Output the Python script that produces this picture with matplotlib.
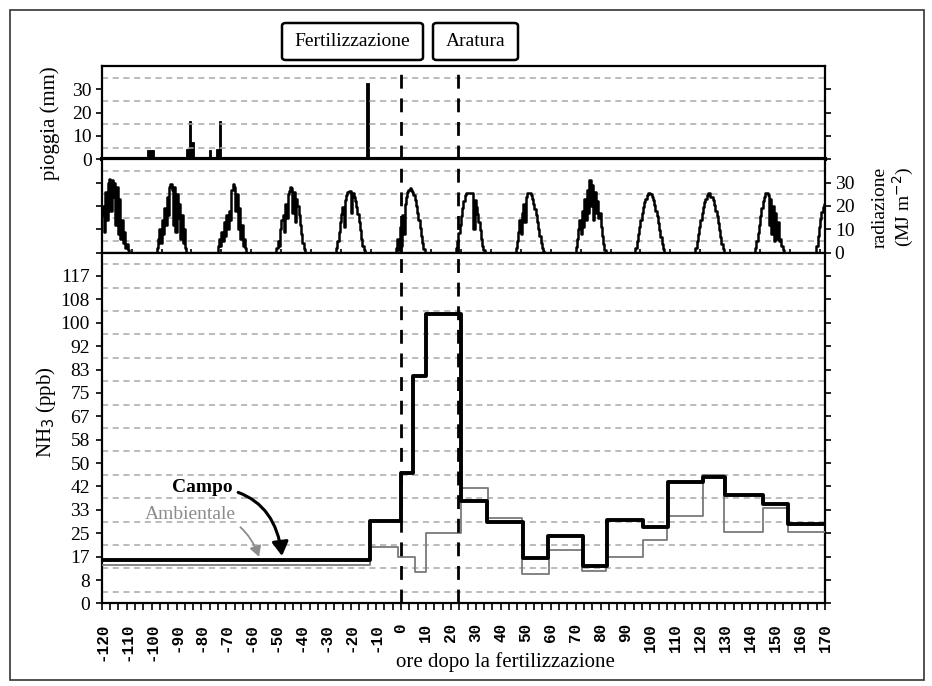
import numpy as np
import matplotlib
matplotlib.use("Agg")
import matplotlib.pyplot as plt
from matplotlib.patches import FancyBboxPatch, Rectangle
from matplotlib.ticker import MultipleLocator, FixedLocator

plt.rcParams['font.family'] = ['Liberation Serif', 'DejaVu Serif']
plt.rcParams['axes.unicode_minus'] = False

# pioggia oraria (mm)
pioggia_ore = [-102, -101, -100, -86, -85, -84, -77, -74, -73, -14]
pioggia_mm = [4, 4, 4, 4.3, 16.4, 7.5, 4, 4.3, 16.5, 32.5]

# radiazione: un elenco ogni giorno, passo di mezz'ora a partire da rad_inizio
rad_inizio = [-120, -98.5, -74, -50.5, -26.5, -2.5, 21.5, 45.5, 69.5, 93.5, 117.5, 141.5, 166]
rad_giorni = [
    [16, 20, 9, 26, 14, 30, 31.5, 18, 31, 24, 30, 12, 28, 8, 23, 6, 14, 4, 9, 2, 3.5, 1, 0],
    [0, 2, 6, 10, 4, 14, 8, 19, 12, 24, 16, 28, 29.5, 27, 12, 28, 9, 25, 15, 21, 6, 16, 4, 10, 2, 0],
    [0, 3, 6, 3, 9, 5, 13, 7, 16, 10, 18, 14, 27, 29.5, 28, 18, 25, 10, 19, 6, 12, 3, 6, 2, 0],
    [0, 2, 5, 3, 10, 14, 16, 9, 21, 15, 25, 26.5, 28, 27.5, 17, 26, 13, 23, 20, 16, 12, 8, 4, 1.5, 0],
    [0, 2, 5, 9, 13, 16.5, 19.5, 11, 22.5, 24.5, 26, 26.5, 26.5, 17, 25.5, 24, 22, 19.5, 16.5, 13, 9.5, 6, 3, 1, 0],
    [0, 2, 6, 1, 11, 3, 16, 8, 21, 24, 26, 27, 27.5, 27, 26, 24.5, 22.5, 20, 17, 14, 10.5, 7, 4, 1.5, 0],
    [0, 2, 5, 8.5, 12, 15.5, 19, 22, 24.5, 25.5, 25.5, 25.5, 25.5, 25.5, 25.5, 10, 22.5, 19.5, 16.5, 13, 9.5, 6, 3, 1, 0],
    [0, 2, 5, 9, 14, 8, 17, 21, 13, 24, 25.5, 25.5, 25.5, 24.5, 23, 21, 18.5, 16, 13, 10, 7, 4, 2, 0.5, 0],
    [0, 2.5, 6, 10, 14, 8, 18, 11, 23, 14, 27, 17, 31, 20, 29, 14, 26, 17, 22, 15, 17, 11, 7, 3.5, 1, 0],
    [0, 2, 5, 8, 11, 14, 17, 19.5, 21.5, 23, 24.5, 25.5, 25.5, 25, 24, 22.5, 20.5, 18, 15.5, 12.5, 9.5, 6.5, 3.5, 1.5, 0],
    [0, 2, 5, 8, 11, 14, 17, 19.5, 21.5, 23, 24.5, 25.5, 25.5, 24, 24, 22.5, 20.5, 18, 15.5, 12.5, 9.5, 6.5, 3.5, 1.5, 0],
    [0, 2, 5, 8.5, 12, 15.5, 19, 22, 24, 25.5, 25.5, 24.5, 12, 23, 8, 20, 5, 17, 6, 13, 5, 6, 3, 1, 0],
    [0, 3, 7, 11, 14.5, 17.5, 19.5, 21, 21],
]

# NH3 (ppb), a gradini
campo_ore = [-120, -12.5, 0, 5, 10, 24, 34.5, 49, 59, 73, 82.5, 97, 107, 121, 130, 145, 155, 170]
campo_ppb = [15.6, 29.5, 46.5, 81, 103, 36.5, 29, 16.3, 24, 13.2, 29.8, 27.4, 43.4, 45.2, 38.7, 35.5, 28.4, 28.4]
amb_ore = [-120, -12.5, -1.3, 5.5, 10, 24, 34.7, 48.7, 59.3, 72.4, 82.3, 97, 106.6, 121, 129.4, 145.3, 155.1, 170]
amb_ppb = [13.8, 20.0, 16.7, 11.2, 25.0, 41.0, 30.4, 10.5, 18.9, 11.7, 16.7, 22.7, 31.3, 45.9, 25.6, 33.9, 25.6, 25.6]

nh3_tick = np.arange(15) * 25 / 3
nh3_etichette = ['0', '8', '17', '25', '33', '42', '50', '58', '67', '75', '83', '92', '100', '108', '117']

eventi_ore = [0, 23]

fig = plt.figure(figsize=(9.32, 6.86), dpi=100)
sx, lw_ax = 0.1091, 0.7761
ax1 = fig.add_axes([sx, 0.7678, lw_ax, 0.1360])
ax2 = fig.add_axes([sx, 0.6319, lw_ax, 0.1359])
ax3 = fig.add_axes([sx, 0.1203, lw_ax, 0.5116])

griglia = dict(color='#a8a8a8', linestyle=(0, (4, 3)), linewidth=1.1)

for ax in (ax1, ax2, ax3):
    ax.set_xlim(-120, 170)
    for s in ax.spines.values():
        s.set_linewidth(1.6)
    for xe in eventi_ore:
        ax.axvline(xe, color='black', lw=2, linestyle=(0, (5, 3.5)), zorder=5)

# pioggia
ax1.bar(pioggia_ore, pioggia_mm, width=1, align='edge', color='black', edgecolor='black', lw=0.6)
ax1.set_ylim(0, 40)
ax1.yaxis.set_major_locator(FixedLocator([0, 10, 20, 30]))
ax1.yaxis.set_minor_locator(FixedLocator([5, 15, 25, 35]))
ax1.tick_params(axis='y', which='major', right=True, labelsize=14, length=4, width=1.2, pad=3)
ax1.tick_params(axis='y', which='minor', length=0)
ax1.tick_params(axis='x', which='both', bottom=False, labelbottom=False)
ax1.grid(True, which='minor', axis='y', **griglia)
ax1.spines['bottom'].set_linewidth(3)

# radiazione
rad_x, rad_y = [], []
for inizio, valori in zip(rad_inizio, rad_giorni):
    rad_x.extend(inizio + 0.5 * np.arange(len(valori)))
    rad_y.extend(valori)
ax2.plot(rad_x, rad_y, drawstyle='steps-post', color='black', lw=1.8)
ax2.set_ylim(0, 40)
ax2.yaxis.set_major_locator(FixedLocator([0, 10, 20, 30]))
ax2.yaxis.set_minor_locator(FixedLocator([5, 15, 25, 35]))
ax2.tick_params(axis='y', which='major', left=True, right=True, labelleft=False,
                labelright=True, labelsize=14, length=4, width=1.2, pad=3)
ax2.tick_params(axis='y', which='minor', length=0)
ax2.xaxis.set_major_locator(MultipleLocator(12))
ax2.tick_params(axis='x', which='major', direction='in', length=3, width=1.2, labelbottom=False)
ax2.grid(True, which='minor', axis='y', **griglia)

# NH3
ax3.plot(amb_ore, amb_ppb, drawstyle='steps-post', color='#7a7a7a', lw=1.3, zorder=3)
ax3.plot(campo_ore, campo_ppb, drawstyle='steps-post', color='black', lw=2.8, zorder=4)
ax3.set_ylim(0, 125)
ax3.yaxis.set_major_locator(FixedLocator(nh3_tick))
ax3.set_yticklabels(nh3_etichette)
ax3.yaxis.set_minor_locator(FixedLocator(nh3_tick + 25 / 6))
ax3.tick_params(axis='y', which='major', right=True, labelsize=14, length=4.5, width=1.2, pad=4)
ax3.tick_params(axis='y', which='minor', length=0)
ax3.grid(True, which='minor', axis='y', **griglia)
ax3.xaxis.set_major_locator(MultipleLocator(10))
ax3.xaxis.set_minor_locator(MultipleLocator(10 / 3))
ax3.tick_params(axis='x', which='both', length=5, width=1.2)
ax3.tick_params(axis='x', which='major', labelsize=11.5, pad=9, labelrotation=90)
for t in ax3.get_xticklabels():
    t.set_family('Liberation Mono')
    t.set_weight('bold')

ax3.annotate('Campo', xy=(-47.7, 16.9), xytext=(-79.6, 41.4), ha='center', va='center',
             fontsize=14, fontweight='bold', color='black',
             arrowprops=dict(arrowstyle='-|>,head_length=0.6,head_width=0.35', color='black',
                             lw=2.2, connectionstyle='arc3,rad=-0.45',
                             shrinkA=2, shrinkB=0))
ax3.annotate('Ambientale', xy=(-56.9, 16.6), xytext=(-84.6, 31.8), ha='center', va='center',
             fontsize=14, color='#8c8c8c',
             arrowprops=dict(arrowstyle='-|>,head_length=0.45,head_width=0.25', color='#8c8c8c',
                             lw=1.3, connectionstyle='arc3,rad=-0.4',
                             shrinkA=2, shrinkB=0))

# etichette degli assi
fig.text(50 / 932, 1 - 123 / 686, 'pioggia (mm)', rotation=90, ha='center', va='center',
         fontsize=15)
fig.text(894 / 932, 1 - 207 / 686, 'radiazione\n(MJ m$^{-2}$)', rotation=90, ha='center',
         va='center', fontsize=14, linespacing=1.1)
fig.text(46 / 932, 1 - 412 / 686, 'NH$_3$ (ppb)', rotation=90, ha='center', va='center',
         fontsize=15)
fig.text(505 / 932, 1 - 662 / 686, 'ore dopo la fertilizzazione', ha='center', va='center',
         fontsize=15)

# riquadri degli eventi
for testo, x0, x1 in [('Fertilizzazione', 282, 423), ('Aratura', 433, 518)]:
    box = FancyBboxPatch((x0 / 932, 1 - 60 / 686), (x1 - x0) / 932, 37 / 686,
                         boxstyle='round,pad=0,rounding_size=0.004', transform=fig.transFigure,
                         facecolor='white', edgecolor='black', lw=1.8)
    fig.patches.append(box)
    fig.text((x0 + x1) / 2 / 932, 1 - 42 / 686, testo, ha='center', va='center', fontsize=14)

# cornice esterna
fig.patches.append(Rectangle((10 / 932, 6 / 686), 914 / 932, 670 / 686, transform=fig.transFigure,
                             fill=False, edgecolor='#333333', lw=1.2))

fig.savefig('out.png', dpi=100)
